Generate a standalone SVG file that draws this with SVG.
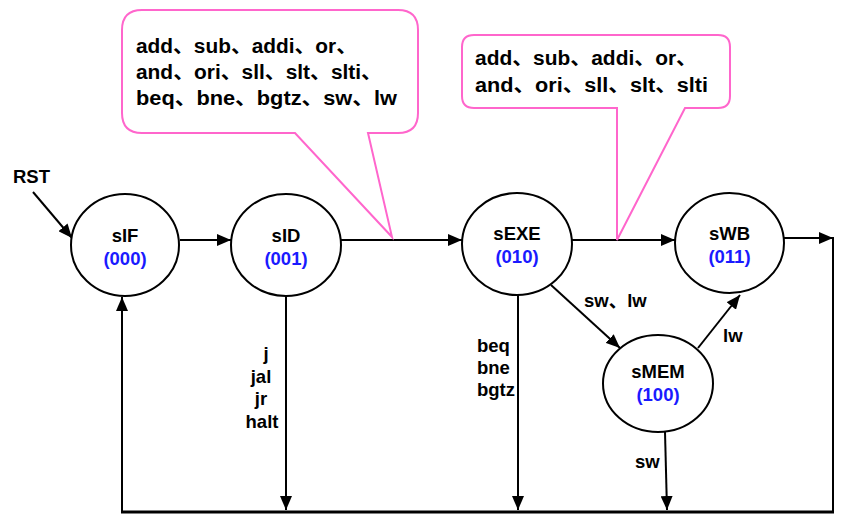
<svg xmlns="http://www.w3.org/2000/svg" width="844" height="526" viewBox="0 0 844 526">
<style>
text{font-family:"Liberation Sans","Noto Sans CJK SC",Arial,sans-serif;font-weight:bold;fill:#000}
.lbl{font-size:18.5px}
.code{font-size:18.5px;fill:#1a1aff}
.call{font-size:20px}
.st{fill:#fff;stroke:#000;stroke-width:2}
.ln{fill:none;stroke:#000;stroke-width:2}
.bubble{fill:#fff;stroke:#ff66cc;stroke-width:2;stroke-linejoin:miter}
</style>
<defs>
<marker id="ah" viewBox="0 0 14 12" refX="14" refY="6" markerWidth="14" markerHeight="12" markerUnits="userSpaceOnUse" orient="auto">
<path d="M0,0 L14,6 L0,12 Z" fill="#000"/>
</marker>
</defs>
<rect width="844" height="526" fill="#fff"/>
<g id="connectors">
<line class="ln" x1="33" y1="192" x2="72" y2="238" marker-end="url(#ah)"/>
<line class="ln" x1="180" y1="240" x2="231" y2="240" marker-end="url(#ah)"/>
<line class="ln" x1="341" y1="240" x2="462" y2="240" marker-end="url(#ah)"/>
<line class="ln" x1="572" y1="240" x2="675" y2="240" marker-end="url(#ah)"/>
<line class="ln" x1="784" y1="238" x2="833" y2="238" marker-end="url(#ah)"/>
<line class="ln" x1="833" y1="237" x2="833" y2="513"/>
<line x1="121" y1="512" x2="834" y2="512" stroke="#000" stroke-width="3"/>
<line class="ln" x1="122" y1="512" x2="122" y2="297" marker-end="url(#ah)"/>
<line class="ln" x1="286" y1="296" x2="286" y2="510" marker-end="url(#ah)"/>
<line class="ln" x1="518" y1="295" x2="518" y2="510" marker-end="url(#ah)"/>
<line class="ln" x1="665" y1="432" x2="667" y2="510" marker-end="url(#ah)"/>
<line class="ln" x1="551" y1="285" x2="620" y2="348" marker-end="url(#ah)"/>
<line class="ln" x1="698" y1="348" x2="740" y2="295" marker-end="url(#ah)"/>
<text class="lbl" x="13" y="183">RST</text>
<text class="lbl" x="584" y="307">sw、lw</text>
<text class="lbl" x="723" y="342">lw</text>
<text class="lbl" x="635" y="468">sw</text>
<g text-anchor="middle">
<text class="lbl" x="266" y="360">j</text>
<text class="lbl" x="261" y="383">jal</text>
<text class="lbl" x="261" y="405">jr</text>
<text class="lbl" x="262" y="428">halt</text>
</g>
<text class="lbl" x="477" y="352">beq</text>
<text class="lbl" x="477" y="374">bne</text>
<text class="lbl" x="477" y="396">bgtz</text>
</g>
<g id="callout1">
<path class="bubble" d="M142,10 H398 Q418,10 418,30 V113 Q418,133 398,133 H368 L392,237 L295,133 H142 Q122,133 122,113 V30 Q122,10 142,10 Z"/>
<text class="call" x="136" y="53" textLength="221" lengthAdjust="spacingAndGlyphs">add、sub、addi、or、</text>
<text class="call" x="136" y="79" textLength="246" lengthAdjust="spacingAndGlyphs">and、ori、sll、slt、slti、</text>
<text class="call" x="136" y="105" textLength="261" lengthAdjust="spacingAndGlyphs">beq、bne、bgtz、sw、lw</text>
</g>
<g id="callout2">
<path class="bubble" d="M474,35 H718 Q730,35 730,47 V96 Q730,108 718,108 H685 L617,240 V108 H474 Q462,108 462,96 V47 Q462,35 474,35 Z"/>
<text class="call" x="475" y="65" textLength="222" lengthAdjust="spacingAndGlyphs">add、sub、addi、or、</text>
<text class="call" x="475" y="92" textLength="233" lengthAdjust="spacingAndGlyphs">and、ori、sll、slt、slti</text>
</g>
<g id="sIF" text-anchor="middle">
<ellipse class="st" cx="125" cy="245" rx="54" ry="51"/>
<text class="lbl" x="125" y="242">sIF</text>
<text class="code" x="125" y="265">(000)</text>
</g>
<g id="sID" text-anchor="middle">
<ellipse class="st" cx="286" cy="245" rx="55" ry="51"/>
<text class="lbl" x="286" y="242">sID</text>
<text class="code" x="286" y="265">(001)</text>
</g>
<g id="sEXE" text-anchor="middle">
<ellipse class="st" cx="517" cy="244" rx="55" ry="51"/>
<text class="lbl" x="517" y="240">sEXE</text>
<text class="code" x="517" y="263">(010)</text>
</g>
<g id="sWB" text-anchor="middle">
<ellipse class="st" cx="729.5" cy="243" rx="54.5" ry="50"/>
<text class="lbl" x="729.5" y="240">sWB</text>
<text class="code" x="729.5" y="263">(011)</text>
</g>
<g id="sMEM" text-anchor="middle">
<ellipse class="st" cx="658" cy="383.5" rx="55" ry="48.5"/>
<text class="lbl" x="658" y="378">sMEM</text>
<text class="code" x="658" y="401">(100)</text>
</g>
</svg>
